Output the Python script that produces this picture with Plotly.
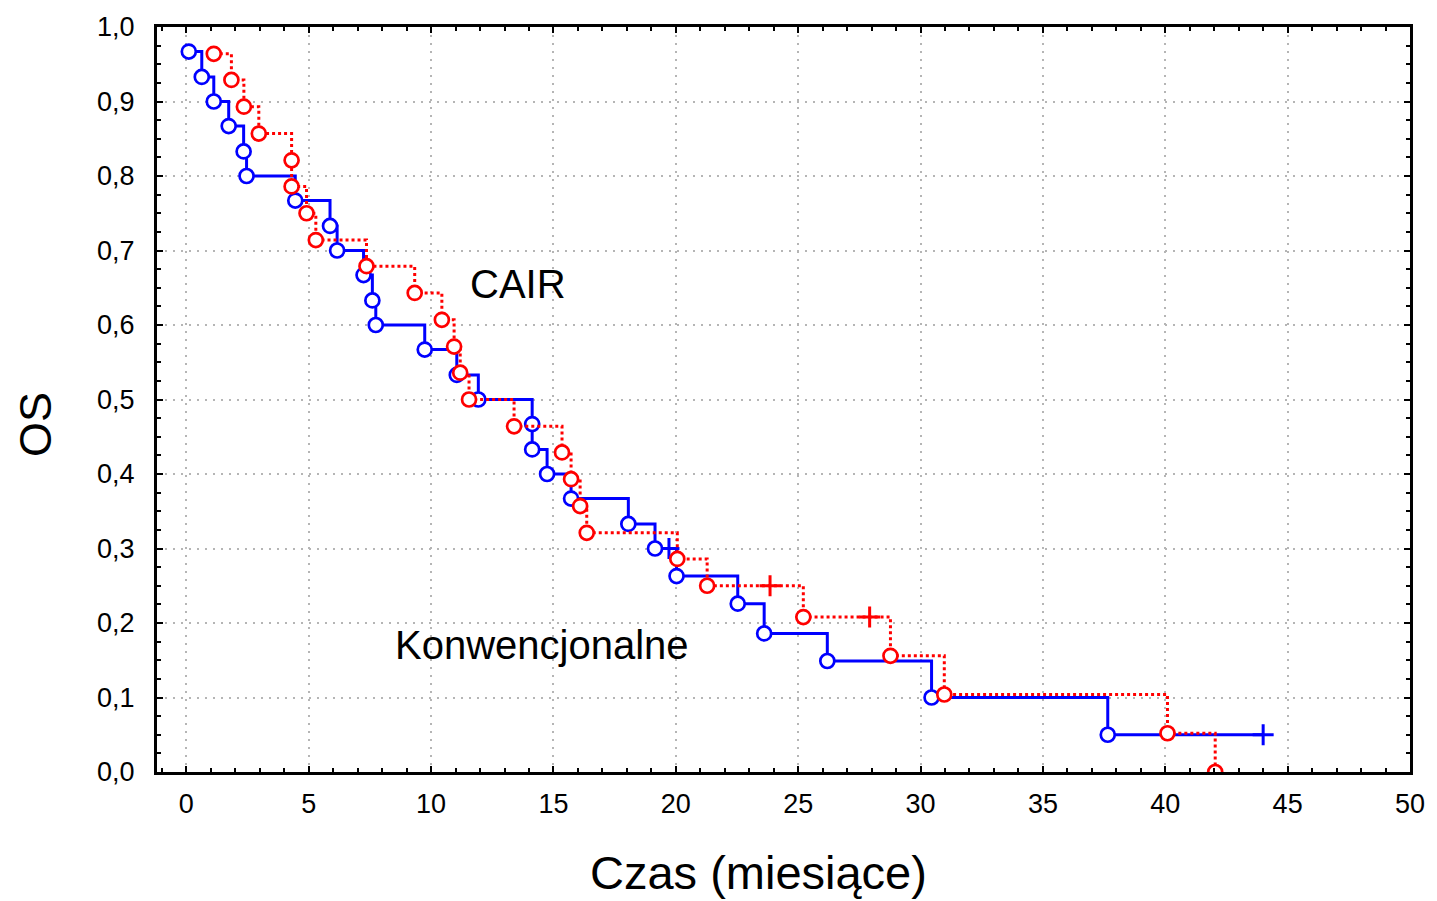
import plotly.graph_objects as go

# ---- Data (Kaplan-Meier estimates) ----
# Konwencjonalne (blue, solid)
konw_t = [0.10, 0.63, 1.12, 1.73, 2.34, 2.46, 4.45, 5.87, 6.16, 7.24, 7.60, 7.74,
          9.74, 11.05, 11.93, 14.13, 14.13, 14.74, 15.72, 18.06, 19.15, 20.03,
          22.53, 23.61, 26.19, 30.45, 37.65]
konw_s = [0.967, 0.933, 0.900, 0.867, 0.833, 0.800, 0.767, 0.733, 0.700, 0.667,
          0.633, 0.600, 0.567, 0.533, 0.500, 0.467, 0.433, 0.400, 0.367, 0.333,
          0.300, 0.263, 0.226, 0.186, 0.149, 0.100, 0.050]
konw_cens_t = [19.72, 44.0]
konw_cens_s = [0.300, 0.050]

# CAIR (red, dotted)
cair_t = [1.12, 1.84, 2.35, 2.96, 4.30, 4.30, 4.91, 5.29, 7.36, 9.33, 10.44, 10.94,
          11.19, 11.55, 13.39, 15.35, 15.72, 16.09, 16.36, 20.06, 21.28, 25.21,
          28.77, 30.97, 40.09, 42.04]
cair_s = [0.964, 0.929, 0.893, 0.857, 0.821, 0.786, 0.750, 0.714, 0.679, 0.643,
          0.607, 0.571, 0.536, 0.500, 0.464, 0.429, 0.393, 0.357, 0.321, 0.286,
          0.250, 0.208, 0.156, 0.104, 0.052, 0.000]
cair_cens_t = [23.85, 27.92]
cair_cens_s = [0.250, 0.208]

x_ticks = [0, 5, 10, 15, 20, 25, 30, 35, 40, 45, 50]
y_ticks = [0.0, 0.1, 0.2, 0.3, 0.4, 0.5, 0.6, 0.7, 0.8, 0.9, 1.0]

FONT = "Liberation Sans, Arial, sans-serif"
BLUE = "#0000ff"
RED = "#ff0000"


def step_data(t, s, ct, cs):
    pts = sorted(list(zip(t, s)) + list(zip(ct, cs)), key=lambda p: (p[0], -p[1]))
    return [p[0] for p in pts], [p[1] for p in pts]


fig = go.Figure()

for t, s, ct, cs, col, dash in [
    (konw_t, konw_s, konw_cens_t, konw_cens_s, BLUE, "solid"),
    (cair_t, cair_s, cair_cens_t, cair_cens_s, RED, "dot"),
]:
    lx, ly = step_data(t, s, ct, cs)
    fig.add_trace(go.Scatter(x=lx, y=ly, mode="lines", line_shape="hv",
                             line=dict(color=col, width=3, dash=dash),
                             showlegend=False, hoverinfo="skip"))
    fig.add_trace(go.Scatter(x=ct, y=cs, mode="markers", showlegend=False,
                             marker=dict(symbol="cross-thin-open", size=15,
                                         color=col,
                                         line=dict(color=col, width=3))))
    fig.add_trace(go.Scatter(x=t, y=s, mode="markers", showlegend=False,
                             marker=dict(symbol="circle", size=14, color="white",
                                         line=dict(color=col, width=2.7))))

axis_common = dict(
    showline=True, linecolor="black", linewidth=3, mirror="allticks",
    ticks="inside", ticklen=6, tickwidth=2, tickcolor="black",
    showgrid=True, gridcolor="#b5b5b5", gridwidth=2, griddash="2px,6px",
    zeroline=False,
    tickfont=dict(family=FONT, size=27, color="black"),
)

fig.update_layout(
    width=1437, height=901,
    margin=dict(l=157, r=21, t=22, b=129),
    paper_bgcolor="white", plot_bgcolor="white",
    separators=", ",
    xaxis=dict(range=[-1.2, 50], tickvals=x_ticks, ticklabelstandoff=6,
               minor=dict(dtick=1, tick0=0, ticks="inside", ticklen=4,
                          tickwidth=2, tickcolor="black", showgrid=False),
               **axis_common),
    yaxis=dict(range=[0, 1.0], tickvals=y_ticks, tickformat=".1f",
               ticklabelstandoff=14,
               minor=dict(dtick=0.025, tick0=0, ticks="inside", ticklen=4,
                          tickwidth=2, tickcolor="black", showgrid=False),
               **axis_common),
    annotations=[
        dict(text="CAIR", x=13.56, y=0.655, xref="x", yref="y", showarrow=False,
             xanchor="center", yanchor="middle",
             font=dict(family=FONT, size=40, color="black")),
        dict(text="Konwencjonalne", x=14.54, y=0.170, xref="x", yref="y",
             showarrow=False, xanchor="center", yanchor="middle",
             font=dict(family=FONT, size=40, color="black")),
        dict(text="Czas (miesiące)", x=0.4797, y=-0.1347, xref="paper",
             yref="paper", showarrow=False, xanchor="center", yanchor="middle",
             font=dict(family=FONT, size=47, color="black")),
        dict(text="OS", x=-0.0965, y=0.466, xref="paper", yref="paper",
             showarrow=False, textangle=-90, xanchor="center", yanchor="middle",
             font=dict(family=FONT, size=45, color="black")),
    ],
)

fig.write_html("out.html")
